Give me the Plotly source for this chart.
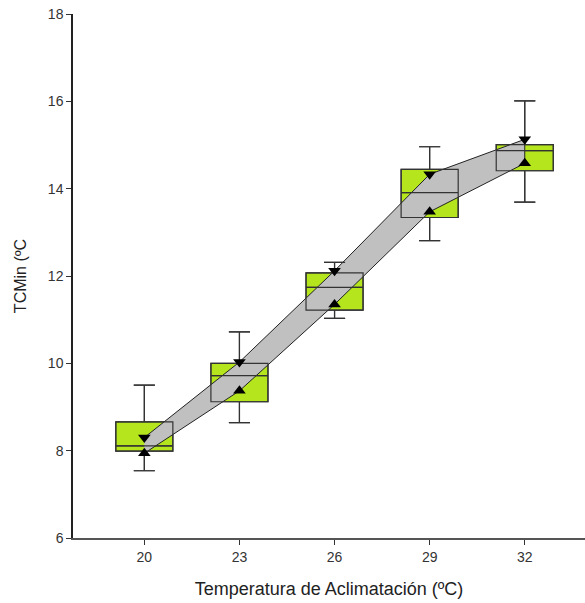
import plotly.graph_objects as go

temps = [20, 23, 26, 29, 32]
q1 = [7.99, 9.12, 11.22, 13.34, 14.41]
median = [8.11, 9.72, 11.74, 13.91, 14.87]
q3 = [8.66, 10.00, 12.07, 14.44, 15.01]
lower_whisker = [7.54, 8.64, 11.03, 12.81, 13.69]
upper_whisker = [9.50, 10.72, 12.31, 14.96, 16.01]
upper_marker = [8.30, 10.03, 12.12, 14.33, 15.13]   # triangle-down series
lower_marker = [7.94, 9.37, 11.35, 13.47, 14.58]    # triangle-up series

x_ticks = [20, 23, 26, 29, 32]
y_ticks = [6, 8, 10, 12, 14, 16, 18]

FONT = "Liberation Sans, Arial, sans-serif"
GREEN = "#B5E61D"
BAND = "#C0C0C0"
EDGE = "#333333"

fig = go.Figure()

box_common = dict(
    x=temps, q1=q1, median=median, q3=q3,
    lowerfence=lower_whisker, upperfence=upper_whisker,
    width=1.8, whiskerwidth=0.37, boxpoints=False,
    hoverinfo="skip", showlegend=False,
)

# Box fill layer (base subplot)
fig.add_trace(go.Box(fillcolor=GREEN, line=dict(color=EDGE, width=1.2), **box_common))

# Gray band between the two marker series
fig.add_trace(go.Scatter(
    x=temps + temps[::-1],
    y=upper_marker + lower_marker[::-1],
    fill="toself", fillcolor=BAND, mode="lines",
    line=dict(color="#222222", width=1),
    hoverinfo="skip", showlegend=False,
))

# Box outline layer drawn on an overlaying subplot, above the band
fig.add_trace(go.Box(fillcolor="rgba(0,0,0,0)", line=dict(color=EDGE, width=1.2),
                     xaxis="x2", yaxis="y2", **box_common))

fig.add_trace(go.Scatter(
    x=temps, y=upper_marker, mode="markers", xaxis="x2", yaxis="y2",
    marker=dict(symbol="triangle-down", size=11, color="black"),
    hoverinfo="skip", showlegend=False,
))
fig.add_trace(go.Scatter(
    x=temps, y=lower_marker, mode="markers", xaxis="x2", yaxis="y2",
    marker=dict(symbol="triangle-up", size=11, color="black"),
    hoverinfo="skip", showlegend=False,
))

XR = [17.75, 33.9]
YR = [6, 18]

fig.update_layout(
    width=585, height=603,
    margin=dict(l=73, r=0, t=14, b=65),
    plot_bgcolor="white", paper_bgcolor="white",
    font=dict(family=FONT, color="#222222"),
    showlegend=False,
    xaxis=dict(
        range=XR, tickvals=x_ticks, ticktext=[str(v) for v in x_ticks],
        showgrid=False, zeroline=False,
        showline=True, linecolor="#555555", linewidth=1.5,
        ticks="outside", ticklen=5, tickcolor="#333333", tickwidth=1,
        tickfont=dict(size=14, color="#333333"),
        title=dict(text="Temperatura de Aclimatación (ºC)", font=dict(size=18, color="#222222"), standoff=19),
    ),
    yaxis=dict(
        range=YR, tickvals=y_ticks, ticktext=[str(v) for v in y_ticks],
        showgrid=False, zeroline=False,
        showline=True, linecolor="#222222", linewidth=1.5,
        ticks="outside", ticklen=5, tickcolor="#333333", tickwidth=1,
        tickfont=dict(size=14, color="#333333"),
        title=dict(text="TCMin (ºC", font=dict(size=16, color="#222222"), standoff=17),
    ),
    xaxis2=dict(overlaying="x", range=XR, visible=False, showgrid=False, zeroline=False),
    yaxis2=dict(overlaying="y", range=YR, visible=False, showgrid=False, zeroline=False),
)

fig.write_html("out.html")
